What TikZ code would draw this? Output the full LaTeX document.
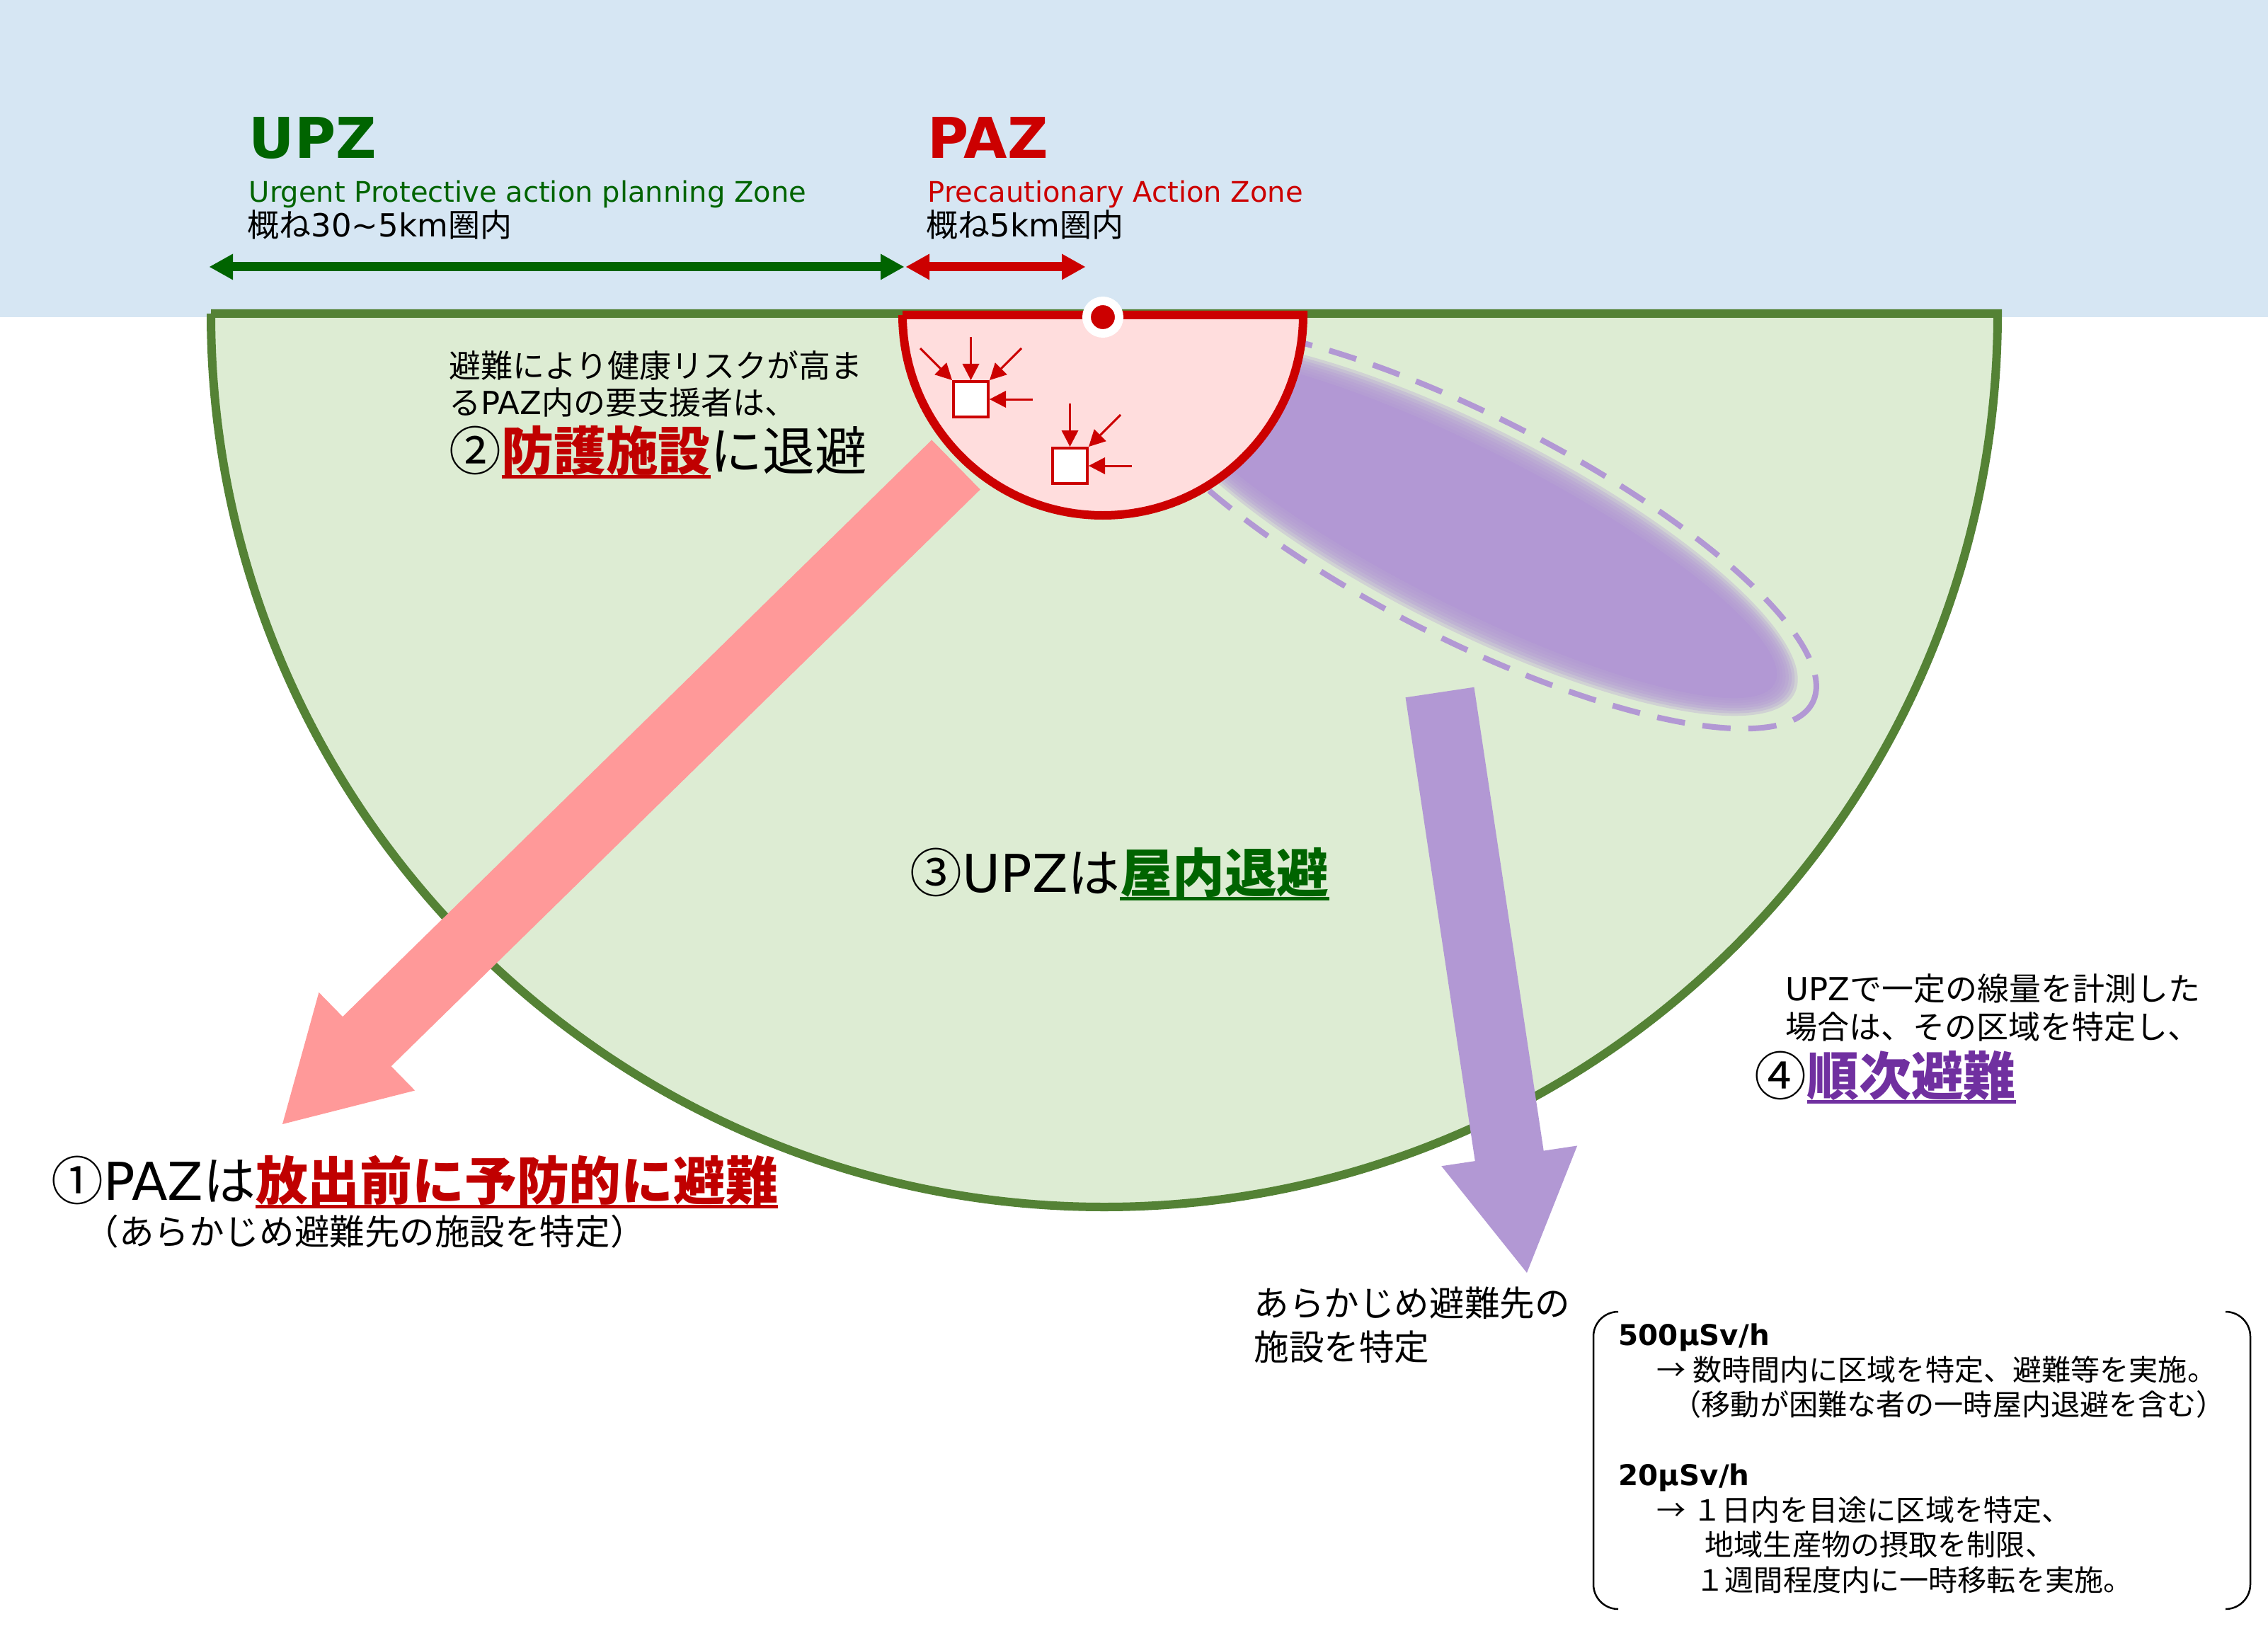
\documentclass[tikz,border=0pt]{standalone}
\usepackage{fontspec}
\setmainfont{Noto Sans CJK JP}
\newfontfamily\latinfont{DejaVu Sans}
\usetikzlibrary{arrows.meta,calc}

\definecolor{skyband}{RGB}{214,230,243}
\definecolor{upzfill}{RGB}{221,236,211}
\definecolor{upzline}{RGB}{84,130,53}
\definecolor{upzgreen}{RGB}{0,100,0}
\definecolor{pazfill}{RGB}{255,221,221}
\definecolor{pazline}{RGB}{204,0,0}
\definecolor{pazred}{RGB}{192,0,0}
\definecolor{pinkarrow}{RGB}{255,153,153}
\definecolor{plume}{RGB}{178,152,212}
\definecolor{plumetext}{RGB}{112,48,160}

% latin letters inside japanese lines
\newcommand{\lat}[1]{{\latinfont #1}}

% bold coloured words with a thick underline
\newsavebox\ulbox
\newcommand{\ulmark}[2]{\sbox\ulbox{\bfseries\color{#1}#2}%
  \rlap{\color{#1}\rule[-0.16em]{\wd\ulbox}{0.06em}}\usebox\ulbox}

% wide block arrow: style, start, tip
\newcommand{\fatarrow}[3]{%
  \path (#2) coordinate (fa-s) (#3) coordinate (fa-t);
  \path ($(fa-t)!1.67cm!(fa-s)$) coordinate (fa-b);
  \fill[#1] ($(fa-s)!0.49cm!90:(fa-t)$) -- ($(fa-b)!0.49cm!-90:(fa-s)$)
    -- ($(fa-b)!0.97cm!-90:(fa-s)$) -- (fa-t) -- ($(fa-b)!0.97cm!90:(fa-s)$)
    -- ($(fa-b)!0.49cm!90:(fa-s)$) -- ($(fa-s)!0.49cm!-90:(fa-t)$) -- cycle;}

\begin{document}
\begin{tikzpicture}[
  lbl/.style={anchor=base west, inner sep=0pt},
  jtext/.style={lbl, font=\fontsize{12.8}{15}\selectfont},
  jlarge/.style={lbl, font=\fontsize{14.1}{17}\selectfont},
  jbig/.style={lbl, font=\fontsize{21}{25}\selectfont},
  jnote/.style={lbl, font=\fontsize{11.7}{14}\selectfont},
  zonetitle/.style={lbl, font=\latinfont\bfseries\fontsize{22.6}{27}\selectfont},
  zonename/.style={lbl, font=\latinfont\fontsize{11.4}{14}\selectfont},
  doserate/.style={lbl, font=\latinfont\bfseries\fontsize{11.5}{14}\selectfont},
  rangebar/.style={line width=1.3mm,
    {Triangle[length=3.3mm,width=3.7mm,line width=0pt]}-{Triangle[length=3.3mm,width=3.7mm,line width=0pt]}},
  inflow/.style={pazline, line width=0.3mm, -{Triangle[length=2.3mm,width=2.4mm,line width=0pt]}},
  shelter/.style={draw=pazline, fill=white, line width=0.4mm,
    minimum width=4.9mm, minimum height=5mm, inner sep=0pt},
]
\useasboundingbox (0,0) rectangle (32.04,-23.04);
\fill[white] (0,0) rectangle (32.04,-23.04);
\fill[skyband] (0,0) rectangle (32.04,-4.48);

% UPZ half disc
\filldraw[fill=upzfill, draw=upzline, line width=1.2mm]
  (2.98,-4.43) -- (28.22,-4.43) arc (0:-180:12.62) -- cycle;

% plume
\begin{scope}[shift={(20.75,-7.45)}, rotate=-27]
  \fill[plume] (0,0) ellipse (4.85 and 1.10);
  \foreach \k in {0,...,7}
    \fill[plume, opacity=0.3] (0,0) ellipse ({4.85+0.045*\k} and {1.10+0.045*\k});
  \draw[plume, line width=0.8mm, dash pattern=on 4mm off 2.5mm] (0,0) ellipse (5.45 and 1.57);
\end{scope}

% evacuation arrows
\coordinate (pazExit) at (13.505,-6.565);
\coordinate (pazDest) at (3.99,-15.88);
\coordinate (upzExit) at (20.34,-9.78);
\coordinate (upzDest) at (21.57,-17.98);
\fatarrow{pinkarrow}{pazExit}{pazDest}
\fatarrow{plume}{upzExit}{upzDest}

% PAZ half disc
\filldraw[fill=pazfill, draw=pazline, line width=1.2mm]
  (12.75,-4.45) -- (18.41,-4.45) arc (0:-180:2.83) -- cycle;
\node[circle, fill=pazline, draw=white, line width=1.2mm, minimum size=4.6mm, inner sep=0pt]
  (plant) at (15.58,-4.48) {};

% shelters
\node[shelter] (shelterA) at (13.715,-5.64) {};
\node[shelter] (shelterB) at (15.115,-6.58) {};
\draw[inflow] ($(shelterA.north)+(0,0.61)$) -- (shelterA.north);
\draw[inflow] ($(shelterA.north west)+(-0.45,0.45)$) -- (shelterA.north west);
\draw[inflow] ($(shelterA.north east)+(0.45,0.45)$) -- (shelterA.north east);
\draw[inflow] ($(shelterA.east)+(0.61,0)$) -- (shelterA.east);
\draw[inflow] ($(shelterB.north)+(0,0.61)$) -- (shelterB.north);
\draw[inflow] ($(shelterB.north east)+(0.45,0.45)$) -- (shelterB.north east);
\draw[inflow] ($(shelterB.east)+(0.61,0)$) -- (shelterB.east);

% zone headings
\coordinate (upzLeft) at (2.96,-3.77);
\coordinate (upzRight) at (12.77,-3.77);
\coordinate (pazLeft) at (12.80,-3.77);
\coordinate (pazRight) at (15.33,-3.77);
\draw[rangebar, upzgreen] (upzLeft) -- (upzRight);
\draw[rangebar, pazline] (pazLeft) -- (pazRight);
\node[zonetitle, upzgreen] (upzTitle) at (3.51,-2.24) {UPZ};
\node[zonetitle, pazline] (pazTitle) at (13.10,-2.24) {PAZ};
\node[zonename, upzgreen] (upzName) at (3.51,-2.86) {Urgent Protective action planning Zone};
\node[zonename, pazline] (pazName) at (13.10,-2.86) {Precautionary Action Zone};
\node[jtext] (upzRange) at (3.49,-3.35) {概ね\lat{30\textasciitilde5km}圏内};
\node[jtext] (pazRange) at (13.08,-3.35) {概ね\lat{5km}圏内};

% step 2
\node[jtext] (stepTwoA) at (6.34,-5.33) {避難により健康リスクが高ま};
\node[jtext] (stepTwoB) at (6.34,-5.86) {る\lat{PAZ}内の要支援者は、};
\node[jbig] (stepTwo) at (6.34,-6.64) {②\ulmark{pazred}{防護施設}に退避};

% step 3
\node[jbig] (stepThree) at (12.85,-12.60) {③\lat{UPZ}は\ulmark{upzgreen}{屋内退避}};

% step 1
\node[jbig] (stepOne) at (0.72,-16.95) {①\lat{PAZ}は\ulmark{pazred}{放出前に予防的に避難}};
\node[jlarge] (stepOneNote) at (1.18,-17.58) {（あらかじめ避難先の施設を特定）};

% step 4
\node[jtext] (stepFourA) at (25.22,-14.13) {\lat{UPZ}で一定の線量を計測した};
\node[jtext] (stepFourB) at (25.22,-14.67) {場合は、その区域を特定し、};
\node[jbig] (stepFour) at (24.78,-15.47) {④\ulmark{plumetext}{順次避難}};

% destination note
\node[jlarge] (destA) at (17.71,-18.59) {あらかじめ避難先の};
\node[jlarge] (destB) at (17.71,-19.21) {施設を特定};

% dose rate criteria
\draw[line width=0.25mm] (22.86,-18.53) arc (90:180:0.35) -- (22.51,-22.38) arc (180:270:0.35);
\draw[line width=0.25mm] (31.44,-18.53) arc (90:0:0.35) -- (31.79,-22.38) arc (0:-90:0.35);
\node[doserate] (doseHigh) at (22.86,-19.00) {500μSv/h};
\node[jnote] (doseHighA) at (23.40,-19.50) {→ 数時間内に区域を特定、避難等を実施。};
\node[jnote] (doseHighB) at (23.62,-19.99) {（移動が困難な者の一時屋内退避を含む）};
\node[doserate] (doseLow) at (22.86,-20.98) {20μSv/h};
\node[jnote] (doseLowA) at (23.40,-21.48) {→ １日内を目途に区域を特定、};
\node[jnote] (doseLowB) at (24.08,-21.97) {地域生産物の摂取を制限、};
\node[jnote] (doseLowC) at (23.95,-22.47) {１週間程度内に一時移転を実施。};
\end{tikzpicture}
\end{document}
